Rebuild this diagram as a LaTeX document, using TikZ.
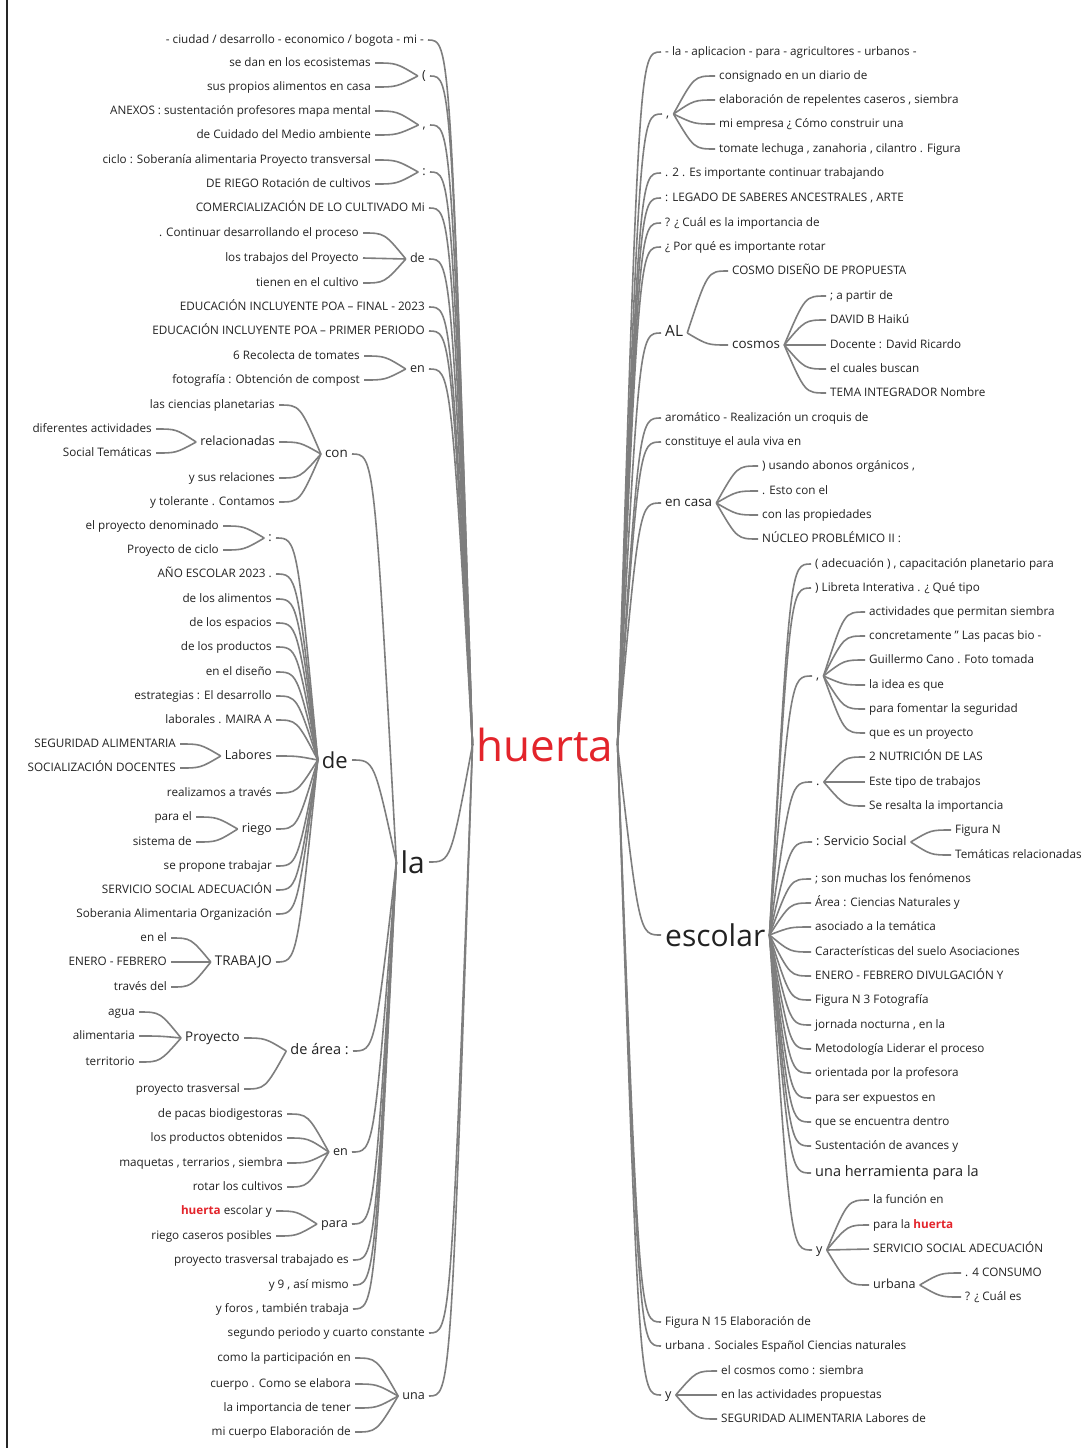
\documentclass[tikz,border=0pt]{standalone}
\usepackage{fontspec}
\setmainfont{Open Sans}
\usetikzlibrary{calc}
\definecolor{ink}{HTML}{222222}
\definecolor{wire}{HTML}{7E7E7E}
\definecolor{hred}{HTML}{E3242B}
% curved connector: child on the left of its parent
\newcommand\linkL[2]{\draw[conn] let \p1=(#2.east), \p2=(#1.west) in
  (\x1+4pt,\y1) .. controls ({(\x1+\x2)/2},\y1) .. (\x2-4pt,\y2);}
% curved connector: child on the right of its parent
\newcommand\linkR[2]{\draw[conn] let \p1=(#2.west), \p2=(#1.east) in
  (\x1-4pt,\y1) .. controls ({(\x1+\x2)/2},\y1) .. (\x2+4pt,\y2);}
\newcommand\hw{\textcolor{hred}{\bfseries huerta}}
\begin{document}
\begin{tikzpicture}[x=1pt,y=-1pt,
  tw/.style={inner sep=0pt,text=ink,font=\fontsize{11.7}{13}\selectfont,text height=8.6pt,text depth=2.5pt},
  tm/.style={inner sep=0pt,text=ink,font=\fontsize{12.6}{14}\selectfont,text height=9.3pt,text depth=2.6pt},
  tn/.style={inner sep=0pt,text=ink,font=\fontsize{13.4}{15}\selectfont,text height=9.9pt,text depth=2.8pt},
  tl/.style={inner sep=0pt,text=ink,font=\fontsize{14.5}{16}\selectfont,text height=10.7pt,text depth=3pt},
  tde/.style={inner sep=0pt,text=ink,font=\fontsize{22}{24}\selectfont},
  tbig/.style={inner sep=0pt,text=ink,font=\fontsize{30}{32}\selectfont},
  troot/.style={inner sep=0pt,text=hred,font=\fontsize{44}{46}\selectfont},
  onL/.style={anchor=east}, onR/.style={anchor=west},
  conn/.style={draw=wire,line width=1.6pt}]
\useasboundingbox (0,0) rectangle (1086,1448);
\fill[white] (0,0) rectangle (1086,1448);
% page frame line on the left
\draw[line width=1.6pt,black!85] (7,0) -- (7,1448);

% root
\node[troot] (H) at (545,745) {huerta};

% ---------------- left branch ----------------
\node[tw,onL] (L1) at (424,40) {- ciudad / desarrollo - economico / bogota - mi -};
\node[tm,onL] (L2) at (426,76) {(};
\node[tw,onL] (L2a) at (371,63) {se dan en los ecosistemas};
\node[tw,onL] (L2b) at (371,87) {sus propios alimentos en casa};
\node[tm,onL] (L3) at (426,125) {,};
\node[tw,onL] (L3a) at (371,111) {ANEXOS : sustentación profesores mapa mental};
\node[tw,onL] (L3b) at (371,135) {de Cuidado del Medio ambiente};
\node[tm,onL] (L4) at (426,172) {:};
\node[tw,onL] (L4a) at (371,160) {ciclo : Soberanía alimentaria Proyecto transversal};
\node[tw,onL] (L4b) at (371,184) {DE RIEGO Rotación de cultivos};
\node[tw,onL] (L5) at (425,208) {COMERCIALIZACIÓN DE LO CULTIVADO Mi};
\node[tm,onL] (L6) at (425,259) {de};
\node[tw,onL] (L6a) at (359,233) {. Continuar desarrollando el proceso};
\node[tw,onL] (L6b) at (359,258) {los trabajos del Proyecto};
\node[tw,onL] (L6c) at (359,283) {tienen en el cultivo};
\node[tw,onL] (L7) at (425,307) {EDUCACIÓN INCLUYENTE POA – FINAL - 2023};
\node[tw,onL] (L8) at (425,331) {EDUCACIÓN INCLUYENTE POA – PRIMER PERIODO};
\node[tm,onL] (L9) at (425,369) {en};
\node[tw,onL] (L9a) at (360,356) {6 Recolecta de tomates};
\node[tw,onL] (L9b) at (360,380) {fotografía : Obtención de compost};
\node[tbig,onL] (LA) at (425,862) {la};
\node[tw,onL] (LS) at (425,1333) {segundo periodo y cuarto constante};
\node[tm,onL] (LU) at (425,1396) {una};
\node[tw,onL] (LUa) at (351,1358) {como la participación en};
\node[tw,onL] (LUb) at (351,1384) {cuerpo . Como se elabora};
\node[tw,onL] (LUc) at (351,1408) {la importancia de tener};
\node[tw,onL] (LUd) at (351,1432) {mi cuerpo Elaboración de};

% children of "la"
\node[tn,onL] (C) at (348,454) {con};
\node[tw,onL] (Ca) at (275,405) {las ciencias planetarias};
\node[tm,onL] (Cb) at (275,442) {relacionadas};
\node[tw,onL] (Cb1) at (152,429) {diferentes actividades};
\node[tw,onL] (Cb2) at (152,453) {Social Temáticas};
\node[tw,onL] (Cc) at (275,478) {y sus relaciones};
\node[tw,onL] (Cd) at (275,502) {y tolerante . Contamos};

\node[tde,onL] (D) at (348,760) {de};
\node[tm,onL] (Da) at (272,538) {:};
\node[tw,onL] (Da1) at (219,526) {el proyecto denominado};
\node[tw,onL] (Da2) at (219,550) {Proyecto de ciclo};
\node[tw,onL] (Db) at (272,574) {AÑO ESCOLAR 2023 .};
\node[tw,onL] (Dc) at (272,599) {de los alimentos};
\node[tw,onL] (Dd) at (272,623) {de los espacios};
\node[tw,onL] (De) at (272,647) {de los productos};
\node[tw,onL] (Df) at (272,672) {en el diseño};
\node[tw,onL] (Dg) at (272,696) {estrategias : El desarrollo};
\node[tw,onL] (Dh) at (272,720) {laborales . MAIRA A};
\node[tm,onL] (Di) at (272,756) {Labores};
\node[tw,onL] (Di1) at (176,744) {SEGURIDAD ALIMENTARIA};
\node[tw,onL] (Di2) at (176,768) {SOCIALIZACIÓN DOCENTES};
\node[tw,onL] (Dj) at (272,793) {realizamos a través};
\node[tm,onL] (Dk) at (272,829) {riego};
\node[tw,onL] (Dk1) at (192,817) {para el};
\node[tw,onL] (Dk2) at (192,842) {sistema de};
\node[tw,onL] (Dl) at (272,866) {se propone trabajar};
\node[tw,onL] (Dm) at (272,890) {SERVICIO SOCIAL ADECUACIÓN};
\node[tw,onL] (Dn) at (272,914) {Soberania Alimentaria Organización};
\node[tn,onL] (Do) at (272,962) {TRABAJO};
\node[tw,onL] (Do1) at (167,938) {en el};
\node[tw,onL] (Do2) at (167,962) {ENERO - FEBRERO};
\node[tw,onL] (Do3) at (167,987) {través del};

\node[tl,onL] (E) at (349,1051) {de área :};
\node[tn,onL] (E1) at (240,1038) {Proyecto};
\node[tw,onL] (E1a) at (135,1012) {agua};
\node[tw,onL] (E1b) at (135,1036) {alimentaria};
\node[tw,onL] (E1c) at (135,1062) {territorio};
\node[tw,onL] (E2) at (240,1089) {proyecto trasversal};

\node[tm,onL] (F) at (348,1152) {en};
\node[tw,onL] (F1) at (283,1114) {de pacas biodigestoras};
\node[tw,onL] (F2) at (283,1138) {los productos obtenidos};
\node[tw,onL] (F3) at (283,1163) {maquetas , terrarios , siembra};
\node[tw,onL] (F4) at (283,1187) {rotar los cultivos};

\node[tm,onL] (G) at (348,1224) {para};
\node[tw,onL] (G1) at (272,1211) {\hw{} escolar y};
\node[tw,onL] (G2) at (272,1236) {riego caseros posibles};

\node[tw,onL] (Hh) at (349,1260) {proyecto trasversal trabajado es};
\node[tw,onL] (Hi) at (349,1285) {y 9 , así mismo};
\node[tw,onL] (Hj) at (349,1309) {y foros , también trabaja};

% ---------------- right branch ----------------
\node[tw,onR] (R1) at (665,52) {- la - aplicacion - para - agricultores - urbanos -};
\node[tm,onR] (R2) at (666,114) {,};
\node[tw,onR] (R2a) at (719,76) {consignado en un diario de};
\node[tw,onR] (R2b) at (719,100) {elaboración de repelentes caseros , siembra};
\node[tw,onR] (R2c) at (719,124) {mi empresa ¿ Cómo construir una};
\node[tw,onR] (R2d) at (719,149) {tomate lechuga , zanahoria , cilantro . Figura};
\node[tw,onR] (R3) at (665,173) {. 2 . Es importante continuar trabajando};
\node[tw,onR] (R4) at (665,198) {: LEGADO DE SABERES ANCESTRALES , ARTE};
\node[tw,onR] (R5) at (665,223) {? ¿ Cuál es la importancia de};
\node[tw,onR] (R6) at (665,247) {¿ Por qué es importante rotar};
\node[tl,onR,font=\fontsize{15.5}{17}\selectfont] (R7) at (665,333) {AL};
\node[tw,onR] (R7a) at (732,271) {COSMO DISEÑO DE PROPUESTA};
\node[tn,onR] (R7b) at (732,345) {cosmos};
\node[tw,onR] (R7b1) at (830,296) {; a partir de};
\node[tw,onR] (R7b2) at (830,320) {DAVID B Haikú};
\node[tw,onR] (R7b3) at (830,345) {Docente : David Ricardo};
\node[tw,onR] (R7b4) at (830,369) {el cuales buscan};
\node[tw,onR] (R7b5) at (830,393) {TEMA INTEGRADOR Nombre};
\node[tw,onR] (R8) at (665,418) {aromático - Realización un croquis de};
\node[tw,onR] (R9) at (665,442) {constituye el aula viva en};
\node[tn,onR] (R10) at (665,503) {en casa};
\node[tw,onR] (R10a) at (762,466) {) usando abonos orgánicos ,};
\node[tw,onR] (R10b) at (762,491) {. Esto con el};
\node[tw,onR] (R10c) at (762,515) {con las propiedades};
\node[tw,onR] (R10d) at (762,539) {NÚCLEO PROBLÉMICO II :};
\node[tbig,onR] (R11) at (665,935) {escolar};
\node[tw,onR] (R12) at (665,1322) {Figura N 15 Elaboración de};
\node[tw,onR] (R13) at (665,1346) {urbana . Sociales Español Ciencias naturales};
\node[tm,onR] (R14) at (665,1395) {y};
\node[tw,onR] (R14a) at (721,1371) {el cosmos como : siembra};
\node[tw,onR] (R14b) at (721,1395) {en las actividades propuestas};
\node[tw,onR] (R14c) at (721,1419) {SEGURIDAD ALIMENTARIA Labores de};

% children of "escolar"
\node[tw,onR] (S1) at (815,564) {( adecuación ) , capacitación planetario para};
\node[tw,onR] (S2) at (815,588) {) Libreta Interativa . ¿ Qué tipo};
\node[tm,onR] (S3) at (816,676) {,};
\node[tw,onR] (S3a) at (869,612) {actividades que permitan siembra};
\node[tw,onR] (S3b) at (869,636) {concretamente " Las pacas bio -};
\node[tw,onR] (S3c) at (869,660) {Guillermo Cano . Foto tomada};
\node[tw,onR] (S3d) at (869,685) {la idea es que};
\node[tw,onR] (S3e) at (869,709) {para fomentar la seguridad};
\node[tw,onR] (S3f) at (869,733) {que es un proyecto};
\node[tm,onR] (S4) at (816,782) {.};
\node[tw,onR] (S4a) at (869,757) {2 NUTRICIÓN DE LAS};
\node[tw,onR] (S4b) at (869,782) {Este tipo de trabajos};
\node[tw,onR] (S4c) at (869,806) {Se resalta la importancia};
\node[tm,onR] (S5) at (816,842) {: Servicio Social};
\node[tw,onR] (S5a) at (955,830) {Figura N};
\node[tw,onR] (S5b) at (955,855) {Temáticas relacionadas};
\node[tw,onR] (S6) at (815,879) {; son muchas los fenómenos};
\node[tw,onR] (S7) at (815,903) {Área : Ciencias Naturales y};
\node[tw,onR] (S8) at (815,927) {asociado a la temática};
\node[tw,onR] (S9) at (815,952) {Características del suelo Asociaciones};
\node[tw,onR] (S10) at (815,976) {ENERO - FEBRERO DIVULGACIÓN Y};
\node[tw,onR] (S11) at (815,1000) {Figura N 3 Fotografía};
\node[tw,onR] (S12) at (815,1025) {jornada nocturna , en la};
\node[tw,onR] (S13) at (815,1049) {Metodología Liderar el proceso};
\node[tw,onR] (S14) at (815,1073) {orientada por la profesora};
\node[tw,onR] (S15) at (815,1098) {para ser expuestos en};
\node[tw,onR] (S16) at (815,1122) {que se encuentra dentro};
\node[tw,onR] (S17) at (815,1146) {Sustentación de avances y};
\node[tl,onR] (S18) at (815,1173) {una herramienta para la};
\node[tm,onR] (S19) at (816,1250) {y};
\node[tw,onR] (S19a) at (873,1200) {la función en};
\node[tw,onR] (S19b) at (873,1225) {para la \hw};
\node[tw,onR] (S19c) at (873,1249) {SERVICIO SOCIAL ADECUACIÓN};
\node[tm,onR] (S19d) at (873,1285) {urbana};
\node[tw,onR] (S19d1) at (965,1273) {. 4 CONSUMO};
\node[tw,onR] (S19d2) at (965,1297) {? ¿ Cuál es};

% ---------------- connectors ----------------
\foreach \c in {L1,L2,L3,L4,L5,L6,L7,L8,L9,LA,LS,LU} {\linkL{H}{\c}}
\foreach \c in {L2a,L2b} {\linkL{L2}{\c}}
\foreach \c in {L3a,L3b} {\linkL{L3}{\c}}
\foreach \c in {L4a,L4b} {\linkL{L4}{\c}}
\foreach \c in {L6a,L6b,L6c} {\linkL{L6}{\c}}
\foreach \c in {L9a,L9b} {\linkL{L9}{\c}}
\foreach \c in {LUa,LUb,LUc,LUd} {\linkL{LU}{\c}}
\foreach \c in {C,D,E,F,G,Hh,Hi,Hj} {\linkL{LA}{\c}}
\foreach \c in {Ca,Cb,Cc,Cd} {\linkL{C}{\c}}
\foreach \c in {Cb1,Cb2} {\linkL{Cb}{\c}}
\foreach \c in {Da,Db,Dc,Dd,De,Df,Dg,Dh,Di,Dj,Dk,Dl,Dm,Dn,Do} {\linkL{D}{\c}}
\foreach \c in {Da1,Da2} {\linkL{Da}{\c}}
\foreach \c in {Di1,Di2} {\linkL{Di}{\c}}
\foreach \c in {Dk1,Dk2} {\linkL{Dk}{\c}}
\foreach \c in {Do1,Do2,Do3} {\linkL{Do}{\c}}
\foreach \c in {E1,E2} {\linkL{E}{\c}}
\foreach \c in {E1a,E1b,E1c} {\linkL{E1}{\c}}
\foreach \c in {F1,F2,F3,F4} {\linkL{F}{\c}}
\foreach \c in {G1,G2} {\linkL{G}{\c}}

\foreach \c in {R1,R2,R3,R4,R5,R6,R7,R8,R9,R10,R11,R12,R13,R14} {\linkR{H}{\c}}
\foreach \c in {R2a,R2b,R2c,R2d} {\linkR{R2}{\c}}
\foreach \c in {R7a,R7b} {\linkR{R7}{\c}}
\foreach \c in {R7b1,R7b2,R7b3,R7b4,R7b5} {\linkR{R7b}{\c}}
\foreach \c in {R10a,R10b,R10c,R10d} {\linkR{R10}{\c}}
\foreach \c in {R14a,R14b,R14c} {\linkR{R14}{\c}}
\foreach \c in {S1,S2,S3,S4,S5,S6,S7,S8,S9,S10,S11,S12,S13,S14,S15,S16,S17,S18,S19} {\linkR{R11}{\c}}
\foreach \c in {S3a,S3b,S3c,S3d,S3e,S3f} {\linkR{S3}{\c}}
\foreach \c in {S4a,S4b,S4c} {\linkR{S4}{\c}}
\foreach \c in {S5a,S5b} {\linkR{S5}{\c}}
\foreach \c in {S19a,S19b,S19c,S19d} {\linkR{S19}{\c}}
\foreach \c in {S19d1,S19d2} {\linkR{S19d}{\c}}
\end{tikzpicture}
\end{document}
